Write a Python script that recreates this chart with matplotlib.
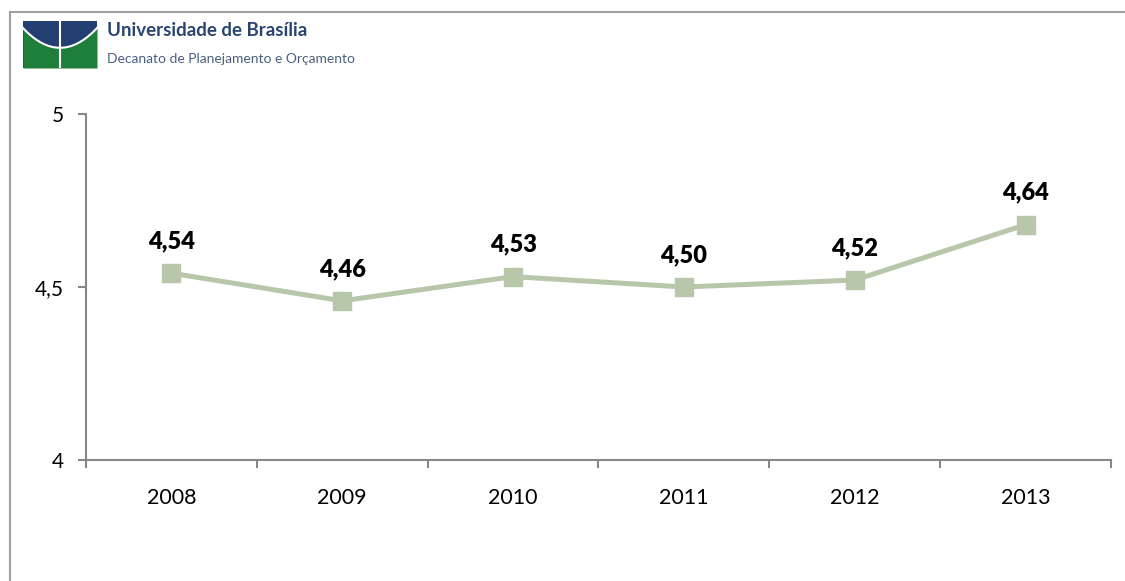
import numpy as np
import matplotlib
matplotlib.use('Agg')
import matplotlib.pyplot as plt
from matplotlib.lines import Line2D

plt.rcParams['font.family'] = ['Lato', 'DejaVu Sans']

years = ['2008', '2009', '2010', '2011', '2012', '2013']
values = [4.54, 4.46, 4.53, 4.50, 4.52, 4.68]
labels = ['4,54', '4,46', '4,53', '4,50', '4,52', '4,64']
yticks = [4, 4.5, 5]
ytick_labels = ['4', '4,5', '5']

line_color = '#B8C6AA'
axis_color = '#878787'

W, H = 1125, 581
fig = plt.figure(figsize=(W / 100, H / 100), dpi=100)

# outer frame (top and left edges only visible)
fig.add_artist(Line2D([10 / W, 10 / W], [0, 1 - 12 / H], transform=fig.transFigure,
                      color='#A0A0A0', lw=1.5))
fig.add_artist(Line2D([10 / W, 1], [1 - 12 / H, 1 - 12 / H], transform=fig.transFigure,
                      color='#A0A0A0', lw=1.5))

# logo
lax = fig.add_axes([23 / W, 1 - 68 / H, 74 / W, 47 / H])
lax.set_xlim(0, 1)
lax.set_ylim(0, 1)
lax.axis('off')
xs = np.linspace(0, 1, 200)
arc = 1 - (0.15 + 0.42 * (1 - (2 * xs - 1) ** 2))
lax.fill_between(xs, 0, 1, color='#233E70', lw=0)
lax.fill_between(xs, 0, arc, color='#1E7F3A', lw=0)
lax.plot(xs, arc, color='white', lw=1.5)
lax.plot([0.5, 0.5], [0, 1], color='white', lw=1.5)

fig.text(107 / W, 1 - 31 / H, 'Universidade de Brasília', fontsize=13.5, fontweight='bold',
         color='#2B4570', va='center', ha='left')
fig.text(107 / W, 1 - 59 / H, 'Decanato de Planejamento e Orçamento', fontsize=10,
         color='#4A6080', va='center', ha='left')

# main chart
ax = fig.add_axes([86 / W, 1 - 460 / H, (1111 - 86) / W, (460 - 114) / H])
x = np.arange(len(years))
ax.plot(x, values, color=line_color, lw=3.6, marker='s', markersize=13,
        markerfacecolor=line_color, markeredgecolor=line_color, zorder=3)
for xi, v, lab in zip(x, values, labels):
    ax.annotate(lab, (xi, v), xytext=(0, 32), textcoords='offset pixels',
                ha='center', va='center', fontsize=17, fontweight='heavy', color='black')

ax.set_xlim(-0.5, len(years) - 0.5)
ax.set_ylim(4, 5)
ax.set_yticks(yticks)
ax.set_yticklabels(ytick_labels, fontsize=15)
ax.set_xticks(x)
ax.set_xticklabels(years, fontsize=15.5)
ax.set_xticks(np.arange(-0.5, len(years)), minor=True)
ax.tick_params(axis='x', which='major', length=0, pad=20)
ax.tick_params(axis='x', which='minor', length=6, color=axis_color, width=1.5)
ax.tick_params(axis='y', length=6, color=axis_color, width=1.5, pad=10)

for s in ['top', 'right']:
    ax.spines[s].set_visible(False)
for s in ['left', 'bottom']:
    ax.spines[s].set_color(axis_color)
    ax.spines[s].set_linewidth(1.5)

fig.savefig('out.png', dpi=100)
